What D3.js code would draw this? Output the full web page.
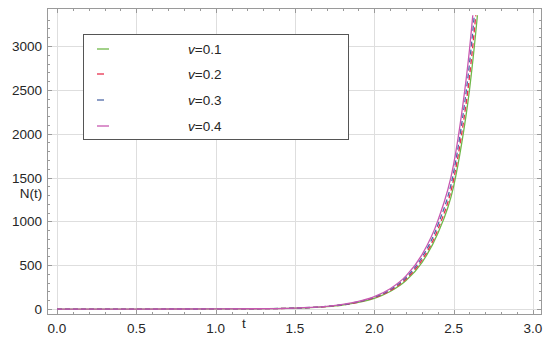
<!DOCTYPE html>
<html>
<head>
<meta charset="utf-8">
<script src="https://cdn.jsdelivr.net/npm/d3@7"></script>
<style>
  body { margin: 0; background: #fff; }
  text { font-family: "Liberation Sans", Arial, sans-serif; }
</style>
</head>
<body>
<script>
// values
var tValues = [0, 0.5, 1.0, 1.25, 1.5, 1.6, 1.7, 1.8, 1.9, 2.0, 2.1, 2.2, 2.3, 2.4, 2.5, 2.55, 2.6, 2.65, 2.7];
var nV1 = [0, 0, 1, 3, 10, 16, 27, 45, 75, 122, 200, 325, 530, 860, 1400, 1880, 2500, 3350, 4400];
var nV2 = [0, 0, 1, 3, 10, 17, 28, 47, 79, 128, 210, 342, 558, 905, 1480, 1990, 2650, 3560, 4700];
var nV3 = [0, 0, 1, 3, 11, 18, 30, 50, 83, 135, 221, 360, 588, 955, 1560, 2100, 2800, 3760, 4950];
var nV4 = [0, 0, 1, 3, 11, 19, 31, 52, 87, 142, 232, 378, 618, 1005, 1650, 2220, 2960, 3980, 5250];
var seriesNames = ["0.1", "0.2", "0.3", "0.4"];
var xTicks = [0, 0.5, 1.0, 1.5, 2.0, 2.5, 3.0];
var yTicks = [0, 500, 1000, 1500, 2000, 2500, 3000];

var width = 550, height = 341;
var pLeft = 47, pRight = 542, pTop = 8, pBottom = 315;
var yMaxPlot = 3350;

var x = d3.scaleLinear().domain([-0.063, 3.057]).range([pLeft, pRight]);
var y = d3.scaleLinear().domain([-68, 3433]).range([pBottom, pTop]);

var svg = d3.select("body").append("svg")
    .attr("width", width)
    .attr("height", height);

// grid
svg.append("g").selectAll("line").data(xTicks).enter().append("line")
    .attr("x1", function(d) { return Math.round(x(d)) + 0.5; })
    .attr("x2", function(d) { return Math.round(x(d)) + 0.5; })
    .attr("y1", pTop).attr("y2", pBottom)
    .attr("stroke", "#dedede").attr("stroke-width", 1);
svg.append("g").selectAll("line").data(yTicks).enter().append("line")
    .attr("y1", function(d) { return Math.round(y(d)) + 0.5; })
    .attr("y2", function(d) { return Math.round(y(d)) + 0.5; })
    .attr("x1", pLeft).attr("x2", pRight)
    .attr("stroke", "#dedede").attr("stroke-width", 1);

// curves
svg.append("clipPath").attr("id", "clip").append("rect")
    .attr("x", pLeft).attr("y", y(yMaxPlot))
    .attr("width", pRight - pLeft).attr("height", pBottom - y(yMaxPlot));

var line = d3.line()
    .x(function(d) { return x(d[0]); })
    .y(function(d) { return y(d[1]); })
    .curve(d3.curveMonotoneX);

var series = [
  { vals: nV1, color: "#70b84a", dash: null },
  { vals: nV2, color: "#e8304e", dash: "5,3" },
  { vals: nV3, color: "#4f6aa8", dash: "5,3" },
  { vals: nV4, color: "#c858b0", dash: null }
];

var curves = svg.append("g").attr("clip-path", "url(#clip)");
series.forEach(function(s) {
  curves.append("path")
      .datum(tValues.map(function(t, i) { return [t, s.vals[i]]; }))
      .attr("d", line)
      .attr("fill", "none")
      .attr("stroke", s.color)
      .attr("stroke-width", 1.3)
      .attr("stroke-dasharray", s.dash);
});

// frame
svg.append("rect")
    .attr("x", pLeft + 0.5).attr("y", pTop + 0.5)
    .attr("width", pRight - pLeft - 1).attr("height", pBottom - pTop - 1)
    .attr("fill", "none").attr("stroke", "#9a9a9a").attr("stroke-width", 1);

// ticks, all four sides
var ticks = svg.append("g").attr("stroke", "#9a9a9a").attr("stroke-width", 1);
var xMinor = d3.range(0, 31).map(function(i) { return i / 10; });
var yMinor = d3.range(0, 34).map(function(i) { return i * 100; });
xMinor.forEach(function(t) {
  var major = Math.abs(t * 2 - Math.round(t * 2)) < 1e-6;
  var len = major ? 5 : 3;
  var px = Math.round(x(t)) + 0.5;
  ticks.append("line").attr("x1", px).attr("x2", px).attr("y1", pBottom).attr("y2", pBottom - len);
  ticks.append("line").attr("x1", px).attr("x2", px).attr("y1", pTop).attr("y2", pTop + len);
});
yMinor.forEach(function(v) {
  var len = (v % 500 === 0) ? 5 : 3;
  var py = Math.round(y(v)) + 0.5;
  ticks.append("line").attr("y1", py).attr("y2", py).attr("x1", pLeft).attr("x2", pLeft + len);
  ticks.append("line").attr("y1", py).attr("y2", py).attr("x1", pRight).attr("x2", pRight - len);
});

// tick labels
svg.append("g").selectAll("text").data(xTicks).enter().append("text")
    .attr("x", function(d) { return x(d); })
    .attr("y", 333)
    .attr("text-anchor", "middle")
    .attr("font-size", "13.5px")
    .attr("fill", "#262626")
    .text(function(d) { return d3.format(".1f")(d); });
svg.append("g").selectAll("text").data(yTicks).enter().append("text")
    .attr("x", 42)
    .attr("y", function(d) { return y(d) + 5; })
    .attr("text-anchor", "end")
    .attr("font-size", "13.5px")
    .attr("fill", "#262626")
    .text(function(d) { return d; });

// axis labels
svg.append("text").attr("x", 31).attr("y", 198).attr("text-anchor", "middle")
    .attr("font-size", "13.5px").attr("fill", "#262626").text("N(t)");
svg.append("text").attr("x", 244).attr("y", 328).attr("text-anchor", "middle")
    .attr("font-size", "13.5px").attr("fill", "#262626").text("t");

// legend
var legend = svg.append("g");
legend.append("rect")
    .attr("x", 83.5).attr("y", 34.5).attr("width", 265).attr("height", 105)
    .attr("fill", "#fff").attr("stroke", "#555").attr("stroke-width", 1);
var rowY = [49, 74, 100, 126];
series.forEach(function(s, i) {
  legend.append("line")
      .attr("x1", 97).attr("x2", s.dash ? 104 : 109)
      .attr("y1", rowY[i]).attr("y2", rowY[i])
      .attr("stroke", s.color).attr("stroke-width", 1.3);
  var txt = legend.append("text")
      .attr("x", 188).attr("y", rowY[i] + 5)
      .attr("font-size", "13.5px").attr("fill", "#262626");
  txt.append("tspan").attr("font-style", "italic").text("v");
  txt.append("tspan").text("=" + seriesNames[i]);
});
</script>
</body>
</html>
